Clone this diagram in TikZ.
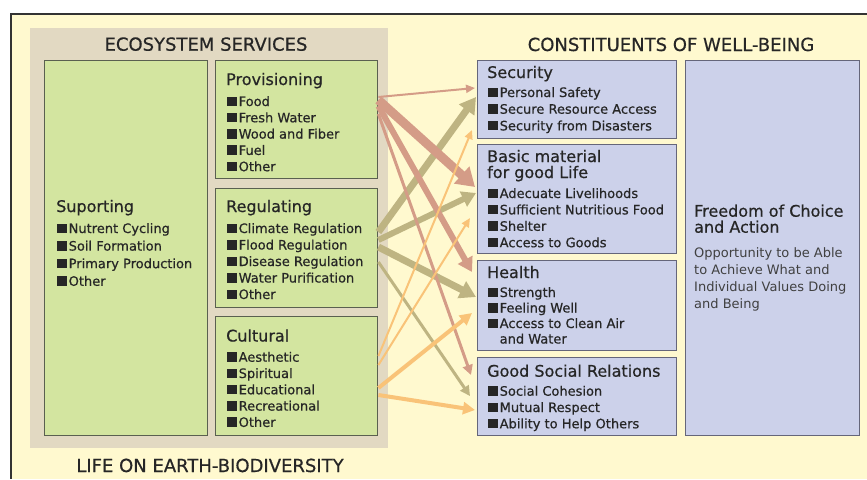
\documentclass[tikz,border=0pt]{standalone}
\usepackage{fontspec}
\setmainfont{DejaVu Sans}
\newfontfamily\medfont{DejaVu Sans}[FakeBold=0.6]
\usetikzlibrary{arrows.meta}
\definecolor{cream}{HTML}{FFF9CF}
\definecolor{panelc}{HTML}{E2D9C2}
\definecolor{greenc}{HTML}{D3E5A0}
\definecolor{bluec}{HTML}{CCD1EA}
\definecolor{gborder}{HTML}{5A6050}
\definecolor{bborder}{HTML}{65667A}
\definecolor{pinkc}{HTML}{D49C87}
\definecolor{olivec}{HTML}{BEB482}
\definecolor{orangec}{HTML}{F9C378}
\definecolor{txt}{HTML}{262626}
\definecolor{txtl}{HTML}{404040}
\newcommand{\sqb}{\rule{10pt}{9.5pt}\hspace{1.5pt}}
\newcommand{\sqi}{\hspace{11.5pt}}
\begin{document}
\begin{tikzpicture}[x=1pt,y=-1pt,
  frame/.style={draw=black!80, line width=2pt},
  panel/.style={fill=panelc, draw=none, inner sep=0, anchor=north west},
  gbox/.style={fill=greenc, draw=gborder, line width=1.4pt, inner sep=0, anchor=north west},
  bbox/.style={fill=bluec, draw=bborder, line width=1.4pt, inner sep=0, anchor=north west},
  big/.style={font=\medfont\fontsize{18}{20}\selectfont, text=txt, inner sep=0, anchor=base},
  ttl/.style={font=\medfont\fontsize{16}{16}\selectfont, text=txt, inner sep=0, anchor=base west, align=left},
  itm/.style={font=\medfont\fontsize{13}{#1}\selectfont, text=txt, inner sep=0, anchor=base west, align=left},
  itm/.default=16.4,
  desc/.style={font=\fontsize{13}{17}\selectfont, text=txtl, inner sep=0, anchor=base west, align=left},
  pk/.style={draw=pinkc, fill=pinkc},
  ol/.style={draw=olivec, fill=olivec},
  og/.style={draw=orangec, fill=orangec},
  a2/.style={line width=2pt, -{Triangle[length=9pt,width=8pt]}},
  a3/.style={line width=3pt, -{Triangle[length=10pt,width=10pt]}},
  a4/.style={line width=4pt, -{Triangle[length=12pt,width=12pt]}},
  a6/.style={line width=6pt, -{Triangle[length=14pt,width=16pt]}},
  a7/.style={line width=7pt, -{Triangle[length=16pt,width=18pt]}},
  a9/.style={line width=9pt, -{Triangle[length=18pt,width=22pt]}}
]
\useasboundingbox (0,0) rectangle (867,479);
\fill[white] (0,0) rectangle (867,479);
\fill[cream] (11,14) rectangle (867,479);
\draw[frame] (867,14) -- (11,14) -- (11,479);

% left panel
\node[panel, minimum width=358pt, minimum height=420pt] (es) at (30,28) {};
\node[gbox, minimum width=163pt, minimum height=375pt] (sup) at (44,60) {};
\node[gbox, minimum width=162pt, minimum height=118pt] (prov) at (215,60) {};
\node[gbox, minimum width=162pt, minimum height=119pt] (reg) at (215,188) {};
\node[gbox, minimum width=162pt, minimum height=119pt] (cult) at (215,316) {};

% right boxes
\node[bbox, minimum width=199pt, minimum height=78pt] (sec) at (477,60) {};
\node[bbox, minimum width=199pt, minimum height=109pt] (basic) at (477,144) {};
\node[bbox, minimum width=199pt, minimum height=90pt] (health) at (477,260) {};
\node[bbox, minimum width=199pt, minimum height=78pt] (social) at (477,357) {};
\node[bbox, minimum width=174pt, minimum height=375pt] (free) at (685,60) {};

% headings
\node[big] (esT) at (206,50.7) {ECOSYSTEM SERVICES};
\node[big] (cwT) at (671,51) {CONSTITUENTS OF WELL-BEING};
\node[big] (lifeT) at (210,472) {LIFE ON EARTH-BIODIVERSITY};

% left texts (multi-line nodes: base = last line)
\node[ttl] (supT) at (56,212) {Suporting};
\node[itm=17.6] (supI) at (57,285.8) {\sqb Nutrent Cycling\\\sqb Soil Formation\\\sqb Primary Production\\\sqb Other};
\node[ttl] (provT) at (226,85) {Provisioning};
\node[itm=16.3] (provI) at (227,171.2) {\sqb Food\\\sqb Fresh Water\\\sqb Wood and Fiber\\\sqb Fuel\\\sqb Other};
\node[ttl] (regT) at (226,212) {Regulating};
\node[itm=16.5] (regI) at (227,299) {\sqb Climate Regulation\\\sqb Flood Regulation\\\sqb Disease Regulation\\\sqb Water Purification\\\sqb Other};
\node[ttl] (cultT) at (226,341.5) {Cultural};
\node[itm=16.3] (cultI) at (227,426.9) {\sqb Aesthetic\\\sqb Spiritual\\\sqb Educational\\\sqb Recreational\\\sqb Other};

% right texts
\node[ttl] (secT) at (487,78) {Security};
\node[itm=16.7] (secI) at (488,130.4) {\sqb Personal Safety\\\sqb Secure Resource Access\\\sqb Security from Disasters};
\node[ttl] (basicT) at (487,178) {Basic material\\for good Life};
\node[itm=16.4] (basicI) at (488,247.2) {\sqb Adecuate Livelihoods\\\sqb Sufficient Nutritious Food\\\sqb Shelter\\\sqb Access to Goods};
\node[ttl] (healthT) at (487,278) {Health};
\node[itm=15.5] (healthI) at (488,343.5) {\sqb Strength\\\sqb Feeling Well\\\sqb Access to Clean Air\\\sqi and Water};
\node[ttl] (socialT) at (487,376.7) {Good Social Relations};
\node[itm=16.3] (socialI) at (488,428.3) {\sqb Social Cohesion\\\sqb Mutual Respect\\\sqb Ability to Help Others};
\node[ttl] (freeT) at (694,232.7) {Freedom of Choice\\and Action};
\node[desc] (freeI) at (694,308.5) {Opportunity to be Able\\to Achieve What and\\Individual Values Doing\\and Being};

% regulating arrows
\draw[ol,a7] ([yshift=-44pt]reg.north east) -- ([xshift=-1pt,yshift=-37pt]sec.north west);
\draw[ol,a6] ([yshift=-52pt]reg.north east) -- ([xshift=-1pt,yshift=-49pt]basic.north west);
\draw[ol,a7] ([yshift=-59pt]reg.north east) -- ([xshift=-1pt,yshift=-37pt]health.north west);
\draw[ol,a3] ([yshift=-74pt]reg.north east) -- ([xshift=-7pt,yshift=-39pt]social.north west);
% provisioning arrows
\draw[pk,a2] ([yshift=-37pt]prov.north east) -- ([xshift=-2pt,yshift=-28pt]sec.north west);
\draw[pk,a9] ([yshift=-40pt]prov.north east) -- ([xshift=-2pt,yshift=-43pt]basic.north west);
\draw[pk,a6] ([yshift=-46pt]prov.north east) -- ([xshift=-5pt,yshift=-12pt]health.north west);
\draw[pk,a3] ([yshift=-54pt]prov.north east) -- ([xshift=-6pt,yshift=-18pt]social.north west);
% cultural arrows
\draw[og,a2] ([yshift=-40pt]cult.north east) -- ([xshift=-5pt,yshift=-70pt]sec.north west);
\draw[og,a2] ([yshift=-49pt]cult.north east) -- ([xshift=-7pt,yshift=-74pt]basic.north west);
\draw[og,a4] ([yshift=-72pt]cult.north east) -- ([xshift=-5pt,yshift=-53pt]health.north west);
\draw[og,a4] ([yshift=-79pt]cult.north east) -- ([xshift=-2pt,yshift=-53pt]social.north west);
\end{tikzpicture}
\end{document}
